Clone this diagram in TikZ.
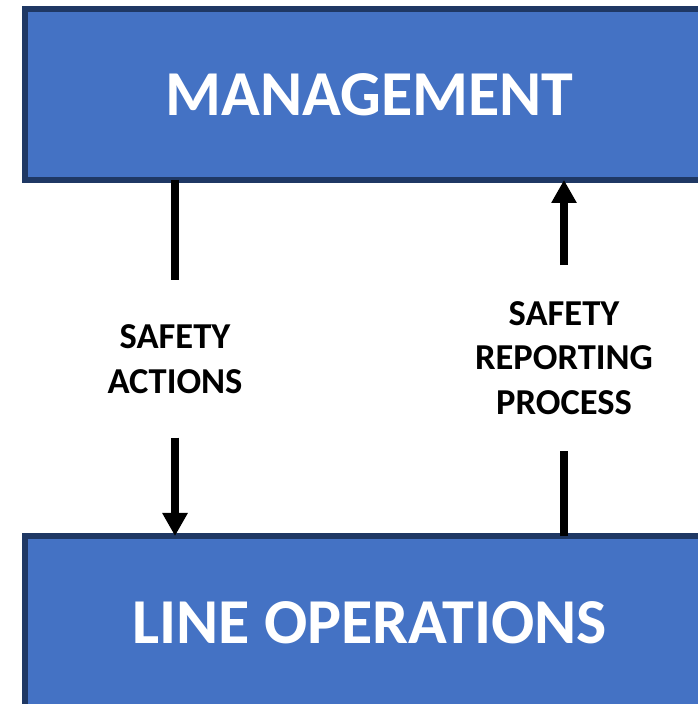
\documentclass[tikz,border=0pt]{standalone}
\usepackage{fontspec}
\setmainfont{Carlito}
\usetikzlibrary{arrows.meta}
\definecolor{boxfill}{HTML}{4472C4}
\definecolor{boxline}{HTML}{1F3864}
\begin{document}
\begin{tikzpicture}[x=1bp,y=1bp,
 box/.style={draw=boxline, fill=boxfill, line width=6bp, outer sep=0pt, inner sep=0pt,
   minimum width=689bp, text=white, font=\bfseries\fontsize{64bp}{77bp}\selectfont},
 lbl/.style={inner sep=0pt, align=center, font=\bfseries\fontsize{36.5bp}{44.5bp}\selectfont},
 shaft/.style={line width=8bp, draw=black},
 head/.style={-{Triangle[width=24bp,length=23bp]}}]
\useasboundingbox (0,0) rectangle (698,704);
\clip (0,0) rectangle (698,704);
\node[box, minimum height=171bp] (mgmt) at (369.5,609.5) {MANAGEMENT};
\node[box, minimum height=174bp] (ops) at (369.5,81) {LINE OPERATIONS};
\node[lbl] (sa) at (175,345) {SAFETY\\ACTIONS};
\node[lbl] (srp) at (564,346) {SAFETY\\REPORTING\\PROCESS};
\draw[shaft, shorten >=44bp] (mgmt.south -| sa.north) -- (sa.north);
\draw[shaft, head, shorten <=44bp] (sa.south) -- (ops.north -| sa.south);
\draw[shaft, shorten >=36bp] (ops.north -| srp.south) -- (srp.south);
\draw[shaft, head, shorten <=36bp] (srp.north) -- (mgmt.south -| srp.north);
\end{tikzpicture}
\end{document}
